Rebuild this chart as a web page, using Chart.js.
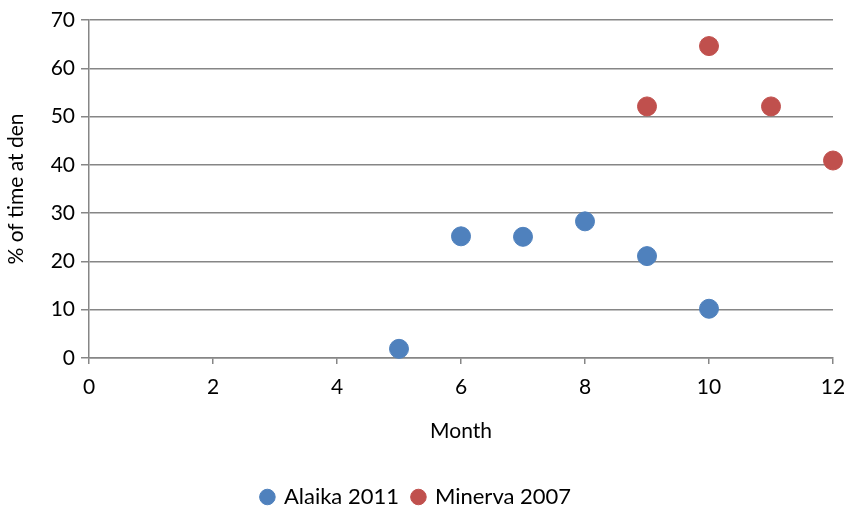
<!DOCTYPE html>
<html><head><meta charset="utf-8">
<script src="https://cdn.jsdelivr.net/npm/chart.js@4/dist/chart.umd.min.js"></script>
<style>html,body{margin:0;padding:0;background:#fff;}#wrap{width:848px;height:508px;}</style>
</head><body><div id="wrap"><canvas id="c" width="848" height="508"></canvas></div>
<script>
const alaikaMonths = [5, 6, 7, 8, 9, 10];
const alaikaValues = [1.9, 25.2, 25.1, 28.3, 21.1, 10.2];
const minervaMonths = [9, 10, 11, 12];
const minervaValues = [52.1, 64.6, 52.1, 40.9];
const xTicks = [0, 2, 4, 6, 8, 10, 12];
const yTicks = [0, 10, 20, 30, 40, 50, 60, 70];

const toPts = (xs, ys) => xs.map((x, i) => ({x: x, y: ys[i]}));
const FONT = 'Lato, "Open Sans", sans-serif';
const gridCol = '#868686';

new Chart(document.getElementById('c'), {
  type: 'scatter',
  data: {
    datasets: [
      {label: 'Alaika 2011', data: toPts(alaikaMonths, alaikaValues), backgroundColor: '#4F81BD', borderColor: '#4F81BD', pointRadius: 9.5, pointHoverRadius: 9.5, clip: false},
      {label: 'Minerva 2007', data: toPts(minervaMonths, minervaValues), backgroundColor: '#C0504D', borderColor: '#C0504D', pointRadius: 9.5, pointHoverRadius: 9.5, clip: false}
    ]
  },
  options: {
    responsive: false,
    animation: false,
    layout: {autoPadding: false, padding: {left: 0, right: 15, top: 20, bottom: -10}},
    plugins: {
      legend: {
        position: 'bottom',
        labels: {usePointStyle: true, pointStyle: 'circle', boxWidth: 11, boxHeight: 11, font: {family: FONT, size: 22}, color: '#000', padding: 14}
      },
      tooltip: {enabled: false}
    },
    scales: {
      x: {
        type: 'linear', min: 0, max: 12,
        afterBuildTicks: s => { s.ticks = xTicks.map(v => ({value: v})); },
        afterFit: s => { s.height = 114; s.paddingRight = 0; s.paddingLeft = 0; },
        ticks: {font: {family: FONT, size: 21}, color: '#000', padding: 11},
        grid: {drawOnChartArea: false, color: gridCol, tickLength: 6, lineWidth: 1.5},
        border: {color: gridCol, width: 1.5},
        title: {display: true, text: 'Month', font: {family: FONT, size: 21}, color: '#000', padding: {top: 10, bottom: 28}}
      },
      y: {
        type: 'linear', min: 0, max: 70,
        afterBuildTicks: s => { s.ticks = yTicks.map(v => ({value: v})); },
        afterFit: s => { s.width = 89; },
        ticks: {font: {family: FONT, size: 21}, color: '#000', padding: 6},
        grid: {color: gridCol, tickLength: 8, lineWidth: 1.5},
        border: {color: gridCol, width: 1.5},
        title: {display: true, text: '% of time at den', font: {family: FONT, size: 21}, color: '#000', padding: {bottom: 2}}
      }
    }
  }
});
</script></body></html>
